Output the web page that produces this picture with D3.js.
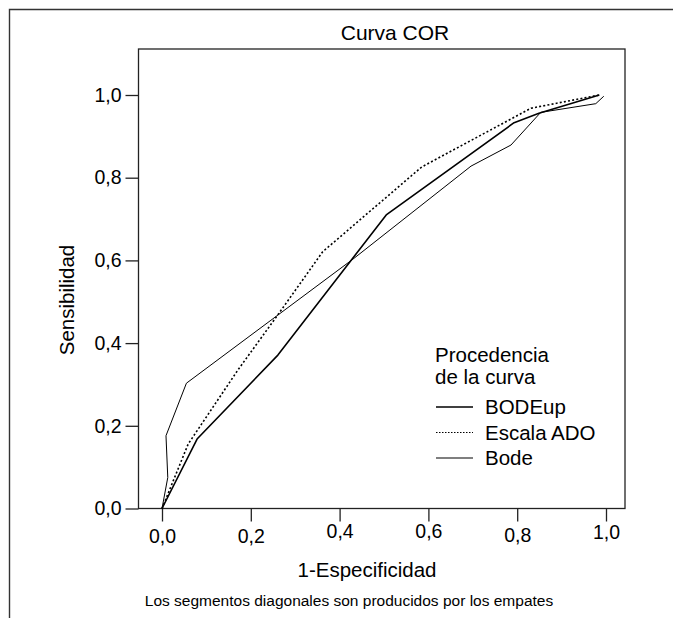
<!DOCTYPE html>
<html>
<head>
<meta charset="utf-8">
<script src="https://cdn.jsdelivr.net/npm/d3@7/dist/d3.min.js"></script>
<style>
  html, body { margin: 0; padding: 0; background: #fff; }
  svg { display: block; font-family: "Liberation Sans", Arial, Helvetica, sans-serif; }
</style>
</head>
<body>
<svg id="chart" width="673" height="618"></svg>
<script>
// ROC curves: (1 - specificity, sensitivity) pairs for each source
const seriesNames = ["BODEup", "Escala ADO", "Bode"];
const bodeUpPoints = [
  [0, 0], [0.079, 0.168], [0.261, 0.371], [0.505, 0.710],
  [0.793, 0.933], [0.849, 0.956], [0.985, 1.0]
];
const escalaAdoPoints = [
  [0, 0], [0.059, 0.156], [0.171, 0.335], [0.262, 0.470], [0.362, 0.621],
  [0.585, 0.826], [0.831, 0.968], [0.985, 1.0]
];
const bodePoints = [
  [0, 0], [0.013, 0.075], [0.009, 0.176], [0.055, 0.303], [0.430, 0.603],
  [0.696, 0.828], [0.786, 0.879], [0.853, 0.958], [0.977, 0.979], [0.995, 0.997]
];
const xTicks = [0, 0.2, 0.4, 0.6, 0.8, 1.0];
const yTicks = [0, 0.2, 0.4, 0.6, 0.8, 1.0];
const titleText = "Curva COR";
const xLabel = "1-Especificidad";
const yLabel = "Sensibilidad";
const legendTitle = ["Procedencia", "de la curva"];
const footnote = "Los segmentos diagonales son producidos por los empates";

const svg = d3.select("#chart");
const fmt = v => d3.format(".1f")(v).replace(".", ",");

// plot frame
const box = { left: 138.5, top: 49, right: 625, bottom: 508.5 };
const x = d3.scaleLinear().domain([0, 1]).range([162, 606]);
const y = d3.scaleLinear().domain([0, 1]).range([508.5, 95]);

// outer border (open on the right and bottom)
svg.append("path")
  .attr("d", "M9.5,618 L9.5,9.5 L673,9.5")
  .attr("fill", "none").attr("stroke", "#333").attr("stroke-width", 1.4);

svg.append("rect")
  .attr("x", box.left).attr("y", box.top)
  .attr("width", box.right - box.left).attr("height", box.bottom - box.top)
  .attr("fill", "none").attr("stroke", "#222").attr("stroke-width", 1.3);

// axes
const xAxis = d3.axisBottom(x).tickValues(xTicks).tickFormat(fmt).tickSize(13).tickPadding(8);
const gx = svg.append("g").attr("transform", `translate(0,${box.bottom})`).call(xAxis);
gx.select(".domain").remove();
// small vertical stagger of some labels, as laid out by the source program
const xLabelShift = [0, 0, -5, -5, -1, -4];
gx.selectAll(".tick text")
  .attr("transform", (d, i) => `translate(0,${xLabelShift[i]})`);

const yAxis = d3.axisLeft(y).tickValues(yTicks).tickFormat(fmt).tickSize(13).tickPadding(4);
const gy = svg.append("g").attr("transform", `translate(${box.left},0)`).call(yAxis);
gy.select(".domain").remove();

[gx, gy].forEach(g => {
  g.selectAll(".tick line").attr("stroke", "#222").attr("stroke-width", 1.3);
  g.selectAll(".tick text").attr("fill", "#000").style("font-size", "19.5px")
    .style("font-family", '"Liberation Sans", Arial, sans-serif');
});

// curves
const line = d3.line().x(d => x(d[0])).y(d => y(d[1]));
const styles = [
  { w: 1.6, dash: null },
  { w: 1.6, dash: "2,2.2" },
  { w: 1.0, dash: null }
];
[bodeUpPoints, escalaAdoPoints, bodePoints].forEach((pts, i) => {
  svg.append("path").datum(pts)
    .attr("d", line)
    .attr("fill", "none").attr("stroke", "#000")
    .attr("stroke-width", styles[i].w)
    .attr("stroke-dasharray", styles[i].dash)
    .attr("stroke-linejoin", "round");
});

// titles
svg.append("text").attr("x", 395).attr("y", 40).attr("text-anchor", "middle")
  .style("font-size", "21px").attr("fill", "#000").text(titleText);
svg.append("text").attr("x", 367).attr("y", 577).attr("text-anchor", "middle")
  .style("font-size", "20.5px").attr("fill", "#000").text(xLabel);
svg.append("text").attr("transform", "translate(74,300) rotate(-90)").attr("text-anchor", "middle")
  .style("font-size", "20.5px").attr("fill", "#000").text(yLabel);
svg.append("text").attr("x", 349).attr("y", 606).attr("text-anchor", "middle")
  .style("font-size", "15.5px").attr("fill", "#000").text(footnote);

// legend
const lg = svg.append("g");
legendTitle.forEach((t, i) => {
  lg.append("text").attr("x", 435).attr("y", 362 + i * 21.5)
    .style("font-size", "20.5px").attr("fill", "#000").text(t);
});
const legendStyles = [
  { w: 1.5, dash: null },
  { w: 1.0, dash: "1.5,1.5" },
  { w: 1.2, dash: null }
];
seriesNames.forEach((name, i) => {
  const yy = 407 + i * 25.5;
  lg.append("line").attr("x1", 436).attr("x2", 473).attr("y1", yy).attr("y2", yy)
    .attr("stroke", "#000").attr("stroke-width", legendStyles[i].w)
    .attr("stroke-dasharray", legendStyles[i].dash);
  lg.append("text").attr("x", 485).attr("y", yy + 7)
    .style("font-size", "20.5px").attr("fill", "#000").text(name);
});
</script>
</body>
</html>
